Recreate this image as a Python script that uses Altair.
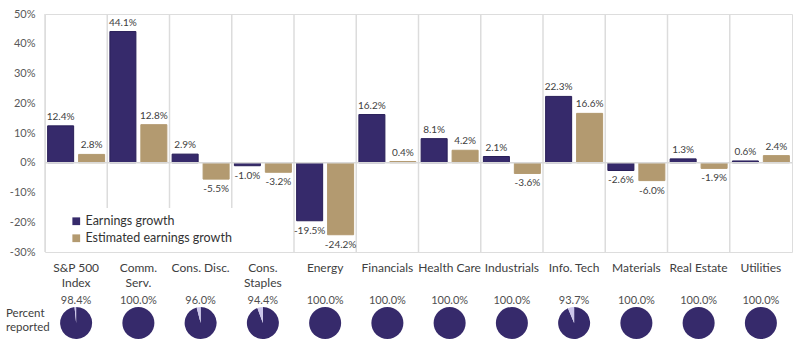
import altair as alt
import pandas as pd

categories = ["S&P 500|Index", "Comm.|Serv.", "Cons. Disc.", "Cons.|Staples", "Energy",
              "Financials", "Health Care", "Industrials", "Info. Tech", "Materials",
              "Real Estate", "Utilities"]
earnings = [12.4, 44.1, 2.9, -1.0, -19.5, 16.2, 8.1, 2.1, 22.3, -2.6, 1.3, 0.6]
estimated = [2.8, 12.8, -5.5, -3.2, -24.2, 0.4, 4.2, -3.6, 16.6, -6.0, -1.9, 2.4]
reported = [98.4, 100.0, 96.0, 94.4, 100.0, 100.0, 100.0, 100.0, 93.7, 100.0, 100.0, 100.0]
series = ["Earnings growth", "Estimated earnings growth"]
y_ticks = [-30, -20, -10, 0, 10, 20, 30, 40, 50]

DARK = "#362a6b"
TAN = "#b39a70"
LIGHT = "#cbc5ea"
FONT = "Lato"

rows = []
for c, e, s in zip(categories, earnings, estimated):
    rows.append({"category": c, "series": series[0], "value": e, "label": f"{e:.1f}%"})
    rows.append({"category": c, "series": series[1], "value": s, "label": f"{s:.1f}%"})
bars_df = pd.DataFrame(rows)

pie_rows = []
for c, r in zip(categories, reported):
    pie_rows.append({"category": c, "part": "reported", "t0": 0.0, "t1": r})
    pie_rows.append({"category": c, "part": "rest", "t0": r, "t1": 100.0})
pie_df = pd.DataFrame(pie_rows)
pie_lab_df = pd.DataFrame({"category": categories, "label": [f"{r:.1f}%" for r in reported]})
sep_df = pd.DataFrame({"category": categories})

x_enc = alt.X("category:N", sort=categories,
              scale=alt.Scale(paddingInner=0, paddingOuter=0),
              axis=alt.Axis(title=None, labelAngle=0, labelExpr="split(datum.label, '|')",
                            labelAlign="center", labelBaseline="top",
                            labelFontSize=12, labelColor="#404040", labelPadding=10,
                            labelLineHeight=15, ticks=False, domain=False, grid=False,
                            labelOverlap=False, labelFont=FONT))
x_plain = alt.X("category:N", sort=categories)
y_scale = alt.Scale(domain=[-30, 50], nice=False, zero=False)
y_plain = alt.Y("value:Q", scale=y_scale)
x_off = alt.XOffset("series:N", sort=series,
                    scale=alt.Scale(paddingInner=0.16, paddingOuter=0.085))

bars = alt.Chart(bars_df).mark_bar().encode(
    x=x_enc,
    xOffset=x_off,
    y=alt.Y("value:Q", scale=y_scale,
            axis=alt.Axis(title=None, values=y_ticks, tickCount=9, labelExpr="datum.value + '%'",
                          labelFontSize=11, labelColor="#595959", labelPadding=10,
                          labelOverlap=False, labelBound=False, labelSeparation=0,
                          ticks=False, domain=False, grid=False, labelFont=FONT)),
    color=alt.Color("series:N", sort=series,
                    scale=alt.Scale(domain=series, range=[DARK, TAN]),
                    legend=alt.Legend(title=None, orient="none", legendX=18, legendY=194,
                                      fillColor="white", padding=7, labelFontSize=12.5,
                                      labelOffset=3,
                                      labelColor="#333333", symbolType="square",
                                      symbolSize=60, rowPadding=4, labelFont=FONT,
                                      symbolStrokeWidth=0)),
    stroke=alt.Stroke("series:N", sort=series,
                      scale=alt.Scale(domain=series, range=["#281e58", TAN]),
                      legend=None),
)

seps = alt.Chart(sep_df).mark_rule(color="#dcdcdc", strokeWidth=1.5).encode(
    x=alt.X("category:N", sort=categories, bandPosition=0)
)

zero = alt.Chart(pd.DataFrame({"value": [0]})).mark_rule(color="#d9d9d9", strokeWidth=1.5).encode(
    y=y_plain
)

pos_labels = alt.Chart(bars_df).transform_filter("datum.value >= 0").mark_text(
    baseline="bottom", dy=-4, fontSize=10, color="#404040", font=FONT
).encode(x=x_plain, xOffset=x_off, y=y_plain, text="label:N")

neg_labels = alt.Chart(bars_df).transform_filter("datum.value < 0").mark_text(
    baseline="top", dy=5, fontSize=10, color="#404040", font=FONT
).encode(x=x_plain, xOffset=x_off, y=y_plain, text="label:N")

pies = alt.Chart(pie_df).mark_arc(radius=16).encode(
    x=x_plain,
    y=alt.value(309),
    theta=alt.Theta("t0:Q", scale=alt.Scale(domain=[0, 100], range=[0, 6.283185307179586])),
    theta2="t1:Q",
    fill=alt.condition("datum.part == 'reported'", alt.value(DARK), alt.value(LIGHT)),
)

pie_labels = alt.Chart(pie_lab_df).mark_text(
    fontSize=11, color="#505050", font=FONT, baseline="middle"
).encode(x=x_plain, y=alt.value(287), text="label:N")

pct_title = alt.Chart(pd.DataFrame({"t": [0]})).mark_text(
    text=["Percent", "reported"], align="left", baseline="middle", fontSize=11.5,
    lineHeight=14, color="#404040", font=FONT
).encode(x=alt.value(-39), y=alt.value(300))

chart = alt.layer(bars, seps, zero, pos_labels, neg_labels, pies, pie_labels, pct_title).properties(
    width=747, height=238,
    autosize=alt.AutoSizeParams(type="none"),
    padding={"left": 45, "top": 14, "right": 8, "bottom": 92},
).configure_view(stroke="#d9d9d9", strokeWidth=1.5).configure(font=FONT).configure_axis(
    labelOverlap=False
)

chart.save("out.html", embed_options={"renderer": "svg", "actions": False})
